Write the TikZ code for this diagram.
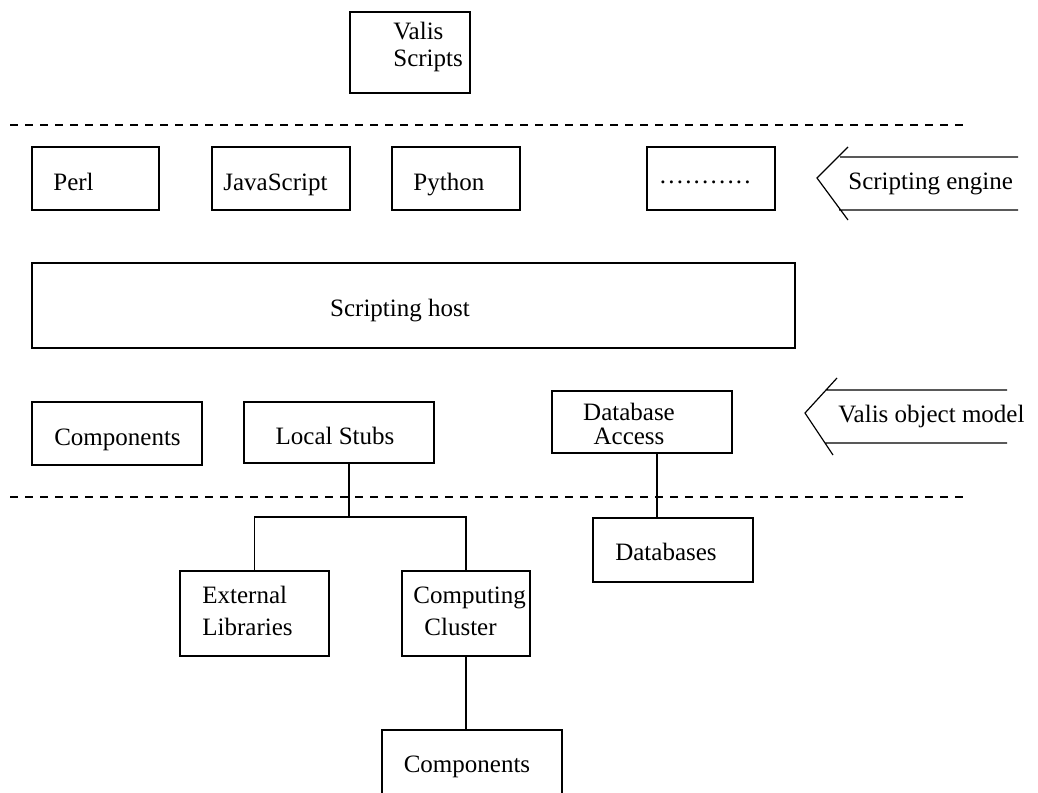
\documentclass[tikz,border=0pt]{standalone}
\usepackage{fontspec}
\setmainfont{Liberation Serif}
\usetikzlibrary{positioning}

\begin{document}
\begin{tikzpicture}[
		x=0.5pt, y=-0.5pt,
		blk/.style={
			draw,
			line width=0.7pt,
			inner sep=0pt,
		},
		txt/.style={
			inner sep=0pt,
			font=\fontsize{12.5}{16}\selectfont,
			align=left,
		},
		sep/.style={
			line width=1pt,
			dash pattern=on 4pt off 3.5pt,
		},
		link/.style={
			line width=0.6pt,
		},
		]
		\useasboundingbox (0,0) rectangle (1038,792);
		\clip (0,0) rectangle (1038,792);
		
		% scripts on top
		\node[blk, minimum width=60pt, minimum height=40.5pt] (scripts) at (410,52.5) {};
		\node[txt, anchor=west] (scripts-t) at (393,47) {Valis\\[-2.5pt]Scripts};
		\draw[sep] (10,125) -- (965,125);
		
		% engines
		\node[blk, minimum width=63.5pt, minimum height=31.5pt] (perl) at (95.5,178.5) {};
		\node[blk, minimum width=69pt, minimum height=31.5pt] (js) at (281,178.5) {};
		\node[blk, minimum width=64pt, minimum height=31.5pt] (python) at (456,178.5) {};
		\node[blk, minimum width=64pt, minimum height=31.5pt] (more) at (711,178.5) {};
		\node[txt, anchor=base west] (perl-t) at (53,190) {Perl};
		\node[txt, anchor=base west] (js-t) at (223,190) {JavaScript};
		\node[txt, anchor=base west] (python-t) at (413,190) {Python};
		\node[txt, anchor=base west] (more-t) at (659.5,183) {\foreach \k in {1,...,10}{.\kern1.1pt}.};
		\node[txt, anchor=base west] (engine) at (848,189) {Scripting engine};
		\draw[link] (1018,157) -- (840,157) (848,147) -- (817,178) -- (848,220) (839,210) -- (1018,210);
		
		% host
		\node[blk, minimum width=381.5pt, minimum height=42.5pt] (host) at (413.5,305.5) {};
		\node[txt, anchor=base] (host-t) at (400,316) {Scripting host};
		
		% object model
		\node[blk, minimum width=85pt, minimum height=31.5pt] (comp) at (117,433.5) {};
		\node[blk, minimum width=95pt, minimum height=30.5pt] (stubs) at (339,432.5) {};
		\node[blk, minimum width=90pt, minimum height=31pt] (dbacc) at (642,422) {};
		\node[txt, anchor=base] (comp-t) at (117.5,445) {Components};
		\node[txt, anchor=base] (stubs-t) at (335,444) {Local Stubs};
		\node[txt, anchor=center, align=center] (dbacc-t) at (629,424) {Database\\[-4pt]Access};
		\node[txt, anchor=base west] (model) at (838,422) {Valis object model};
		\draw[link] (1007,390) -- (826,390) (837,378) -- (805,413) -- (833,455) (825,443) -- (1007,443);
		\draw[sep] (10,497) -- (965,497);
		
		% outside
		\node[blk, minimum width=80pt, minimum height=32pt] (db) at (673,550) {};
		\node[blk, minimum width=74.5pt, minimum height=42.5pt] (extlib) at (254.5,613.5) {};
		\node[blk, minimum width=64pt, minimum height=42.5pt] (cluster) at (466,613.5) {};
		\node[blk, minimum width=90pt, minimum height=40pt] (comp2) at (472,770) {};
		\node[txt, anchor=base] (db-t) at (666,560) {Databases};
		\node[txt, anchor=west] (extlib-t) at (202,611) {External\\Libraries};
		\node[txt, anchor=west] (cluster-t) at (413,611) {Computing\\\hspace*{5.5pt}Cluster};
		\node[txt, anchor=base] (comp2-t) at (467,772) {Components};
		
		\coordinate (fork) at (349,517);
		\draw[link] (stubs.south -| fork) -- (fork);
		\draw[link] (extlib.north) |- (fork) -| (cluster.north);
		\draw[link] (cluster.south) -- (cluster.south |- comp2.north);
		\draw[link] ([xshift=7.5pt]dbacc.south) -- ([xshift=7.5pt]dbacc.south |- db.north);
		
\end{tikzpicture}
\end{document}
